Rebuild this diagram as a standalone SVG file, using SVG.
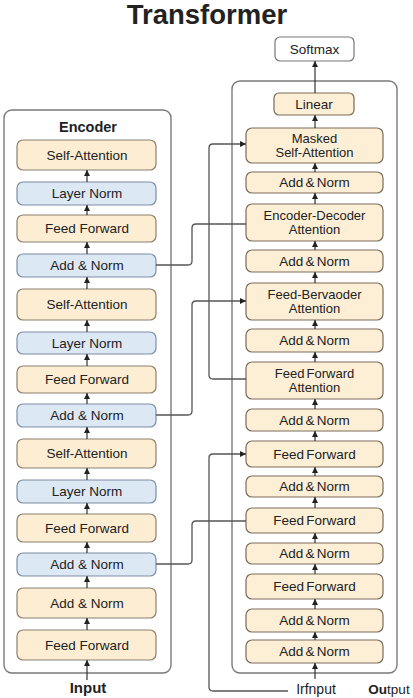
<svg xmlns="http://www.w3.org/2000/svg" width="413" height="698" viewBox="0 0 413 698">
<defs>
<marker id="ah" markerWidth="6" markerHeight="6" refX="6" refY="3" orient="auto" markerUnits="userSpaceOnUse"><path d="M0,0 L6,3 L0,6 z" fill="#222"/></marker>
<style>
.t{font-family:"Liberation Sans",Arial,sans-serif;fill:#222;text-anchor:middle}
.lb{font-size:13.5px}
.dl{font-size:13.5px;word-spacing:-1.5px}
.d2{font-size:13px;word-spacing:-1.5px}
.org{fill:#fcedd3;stroke:#8a806e;stroke-width:1.2}
.blu{fill:#dce8f4;stroke:#7d8ea3;stroke-width:1.2}
.dec{fill:#fdefd6;stroke:#7a6c58;stroke-width:1.2}
.wht{fill:#fff;stroke:#777;stroke-width:1.2}
.outer{fill:none;stroke:#7a7a7a;stroke-width:1.4}
.cn{fill:none;stroke:#555;stroke-width:1.3}
.ar{fill:none;stroke:#333;stroke-width:1.2;marker-end:url(#ah)}
</style>
</defs>
<rect width="413" height="698" fill="#fff"/>
<text class="t" x="207" y="24" style="font-size:27.5px;font-weight:bold">Transformer</text>

<g id="encoder">
<rect class="outer" x="4" y="110" width="167" height="563" rx="8"/>
<text class="t" x="88" y="132" style="font-size:14.5px;font-weight:bold">Encoder</text>
</g>
<g id="decoder">
<rect class="outer" x="232" y="81" width="165" height="592" rx="8"/>
</g>

<g id="e1"><rect class="org" x="17" y="140" width="139" height="30" rx="6"/><text class="t lb" x="87" y="160">Self-Attention</text></g>
<g id="e2"><rect class="blu" x="17" y="182" width="139" height="23" rx="6"/><text class="t lb" x="87" y="198">Layer Norm</text></g>
<g id="e3"><rect class="org" x="17" y="215" width="139" height="27" rx="6"/><text class="t lb" x="87" y="233">Feed Forward</text></g>
<g id="e4"><rect class="blu" x="17" y="254" width="139" height="23" rx="6"/><text class="t lb" x="87" y="270">Add &amp; Norm</text></g>
<g id="e5"><rect class="org" x="17" y="289" width="139" height="31" rx="6"/><text class="t lb" x="87" y="309">Self-Attention</text></g>
<g id="e6"><rect class="blu" x="17" y="332" width="139" height="22" rx="6"/><text class="t lb" x="87" y="348">Layer Norm</text></g>
<g id="e7"><rect class="org" x="17" y="366" width="139" height="27" rx="6"/><text class="t lb" x="87" y="384">Feed Forward</text></g>
<g id="e8"><rect class="blu" x="17" y="404" width="139" height="23" rx="6"/><text class="t lb" x="87" y="420">Add &amp; Norm</text></g>
<g id="e9"><rect class="org" x="17" y="439" width="139" height="29" rx="6"/><text class="t lb" x="87" y="458">Self-Attention</text></g>
<g id="e10"><rect class="blu" x="17" y="480" width="139" height="23" rx="6"/><text class="t lb" x="87" y="496">Layer Norm</text></g>
<g id="e11"><rect class="org" x="17" y="514" width="139" height="28" rx="6"/><text class="t lb" x="87" y="533">Feed Forward</text></g>
<g id="e12"><rect class="blu" x="17" y="553" width="139" height="23" rx="6"/><text class="t lb" x="87" y="569">Add &amp; Norm</text></g>
<g id="e13"><rect class="org" x="17" y="588" width="139" height="30" rx="6"/><text class="t lb" x="87" y="608">Add &amp; Norm</text></g>
<g id="e14"><rect class="org" x="17" y="630" width="139" height="30" rx="6"/><text class="t lb" x="87" y="650">Feed Forward</text></g>
<g id="input"><text class="t" x="88" y="693" style="font-size:15px;font-weight:bold">Input</text></g>

<g id="softmax"><rect class="wht" x="275" y="37" width="79" height="24" rx="5"/><text class="t lb" x="314.5" y="54">Softmax</text></g>
<g id="d0"><rect class="dec" x="274" y="93" width="80" height="22" rx="5"/><text class="t lb" x="314" y="109">Linear</text></g>
<g id="d1"><rect class="dec" x="246" y="128" width="137" height="35" rx="6"/><text class="t d2" x="314.5" y="143">Masked</text><text class="t d2" x="314.5" y="157">Self-Attention</text></g>
<g id="d2"><rect class="dec" x="246" y="172" width="137" height="21" rx="6"/><text class="t dl" x="314.5" y="187">Add &amp; Norm</text></g>
<g id="d3"><rect class="dec" x="246" y="204" width="137" height="37" rx="6"/><text class="t d2" x="314.5" y="220">Encoder-Decoder</text><text class="t d2" x="314.5" y="234">Attention</text></g>
<g id="d4"><rect class="dec" x="246" y="250" width="137" height="22" rx="6"/><text class="t dl" x="314.5" y="266">Add &amp; Norm</text></g>
<g id="d5"><rect class="dec" x="246" y="283" width="137" height="37" rx="6"/><text class="t d2" x="314.5" y="299">Feed-Bervaoder</text><text class="t d2" x="314.5" y="313">Attention</text></g>
<g id="d6"><rect class="dec" x="246" y="329" width="137" height="23" rx="6"/><text class="t dl" x="314.5" y="345">Add &amp; Norm</text></g>
<g id="d7"><rect class="dec" x="246" y="362" width="137" height="37" rx="6"/><text class="t d2" x="314.5" y="378">Feed Forward</text><text class="t d2" x="314.5" y="392">Attention</text></g>
<g id="d8"><rect class="dec" x="246" y="409" width="137" height="22" rx="6"/><text class="t dl" x="314.5" y="425">Add &amp; Norm</text></g>
<g id="d9"><rect class="dec" x="246" y="441" width="137" height="26" rx="6"/><text class="t dl" x="314.5" y="459">Feed Forward</text></g>
<g id="d10"><rect class="dec" x="246" y="476" width="137" height="21" rx="6"/><text class="t dl" x="314.5" y="491">Add &amp; Norm</text></g>
<g id="d11"><rect class="dec" x="246" y="508" width="137" height="25" rx="6"/><text class="t dl" x="314.5" y="525">Feed Forward</text></g>
<g id="d12"><rect class="dec" x="246" y="543" width="137" height="21" rx="6"/><text class="t dl" x="314.5" y="558">Add &amp; Norm</text></g>
<g id="d13"><rect class="dec" x="246" y="574" width="137" height="25" rx="6"/><text class="t dl" x="314.5" y="591">Feed Forward</text></g>
<g id="d14"><rect class="dec" x="246" y="609" width="137" height="23" rx="6"/><text class="t dl" x="314.5" y="625">Add &amp; Norm</text></g>
<g id="d15"><rect class="dec" x="246" y="640" width="137" height="23" rx="6"/><text class="t dl" x="314.5" y="656">Add &amp; Norm</text></g>
<g id="labels">
<text class="t" x="316" y="694" style="font-size:14px">Irfnput</text>
<text class="t" x="389" y="694" style="font-size:13.5px"><tspan font-weight="bold">Ou</tspan>tput</text>
</g>

<g id="connectors">
<path class="ar" d="M87,182 V170"/>
<path class="ar" d="M87,215 V205"/>
<path class="ar" d="M87,254 V242"/>
<path class="ar" d="M87,289 V277"/>
<path class="ar" d="M87,332 V320"/>
<path class="ar" d="M87,366 V354"/>
<path class="ar" d="M87,404 V393"/>
<path class="ar" d="M87,439 V427"/>
<path class="ar" d="M87,480 V468"/>
<path class="ar" d="M87,514 V503"/>
<path class="ar" d="M87,553 V542"/>
<path class="ar" d="M87,588 V576"/>
<path class="ar" d="M87,630 V618"/>
<path class="ar" d="M87,680 V660"/>

<path class="ar" d="M315,93 V61"/>
<path class="ar" d="M315,128 V115"/>
<path class="ar" d="M315,172 V163"/>
<path class="ar" d="M315,204 V193"/>
<path class="ar" d="M315,250 V241"/>
<path class="ar" d="M315,283 V272"/>
<path class="ar" d="M315,329 V320"/>
<path class="ar" d="M315,362 V352"/>
<path class="ar" d="M315,409 V399"/>
<path class="ar" d="M315,441 V431"/>
<path class="ar" d="M315,476 V467"/>
<path class="ar" d="M315,508 V497"/>
<path class="ar" d="M315,543 V533"/>
<path class="ar" d="M315,574 V564"/>
<path class="ar" d="M315,609 V599"/>
<path class="ar" d="M315,640 V632"/>
<path class="ar" d="M315,679 V663"/>

<path class="cn" d="M156,265 H188 Q192,265 192,261 V228 Q192,224 196,224 H246"/>
<path class="cn" d="M156,415 H188 Q192,415 192,411 V305 Q192,301 196,301 H246" marker-end="url(#ah)"/>
<path class="cn" d="M156,564 H188 Q192,564 192,560 V525 Q192,521 196,521 H246"/>
<path class="cn" d="M246,379 H213 Q209,379 209,375 V148 Q209,144 213,144 H246" marker-end="url(#ah)"/>
<path class="cn" d="M288,691 H213 Q209,691 209,687 V458 Q209,454 213,454 H246" marker-end="url(#ah)"/>
</g>
</svg>
